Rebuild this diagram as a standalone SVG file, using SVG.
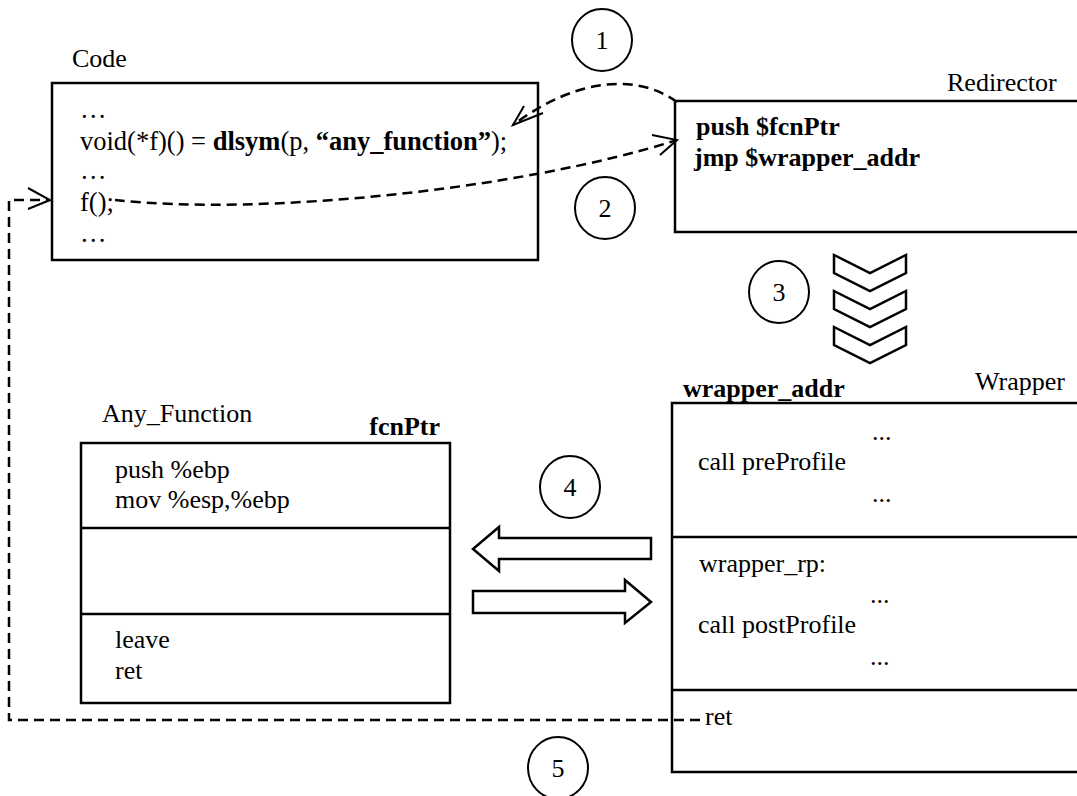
<svg xmlns="http://www.w3.org/2000/svg" width="1077" height="796" viewBox="0 0 1077 796">
<style>
text{font-family:"Liberation Serif","Times New Roman",serif;font-size:26px;fill:#000}
.b{font-weight:bold}
.big{font-size:26.5px}
.box{fill:#fff;stroke:#000;stroke-width:2.5}
.sep{stroke:#000;stroke-width:2.5}
.circ{fill:#fff;stroke:#000;stroke-width:2}
.num{text-anchor:middle}
.dash{fill:none;stroke:#000;stroke-width:2.5;stroke-dasharray:10 6}
.head{fill:none;stroke:#000;stroke-width:2}
.blk{fill:#fff;stroke:#000;stroke-width:2.5;stroke-linejoin:miter}
</style>
<rect width="1077" height="796" fill="#fff"/>

<g id="code">
<text x="72" y="67">Code</text>
<rect class="box" x="52" y="83" width="486" height="177"/>
<text class="big" x="80" y="118">…</text>
<text class="big" x="80" y="150">void(*f)() = <tspan class="b">dlsym</tspan>(p, <tspan class="b">“any_function”</tspan>);</text>
<text class="big" x="80" y="179">…</text>
<text class="big" x="80" y="211">f();</text>
<text class="big" x="80" y="242">…</text>
</g>

<g id="redirector">
<text x="947" y="91">Redirector</text>
<rect class="box" x="675" y="101" width="420" height="131"/>
<text class="b" x="696" y="135">push $fcnPtr</text>
<text class="b" x="694" y="166">jmp $wrapper_addr</text>
</g>

<g id="any_function">
<text x="102" y="422">Any_Function</text>
<text class="b" x="440" y="435" text-anchor="end">fcnPtr</text>
<rect class="box" x="81" y="443" width="369" height="260"/>
<line class="sep" x1="81" y1="528" x2="450" y2="528"/>
<line class="sep" x1="81" y1="614" x2="450" y2="614"/>
<text x="115" y="478">push %ebp</text>
<text x="115" y="508">mov %esp,%ebp</text>
<text x="115" y="648">leave</text>
<text x="115" y="679">ret</text>
</g>

<g id="wrapper">
<text class="b" x="683" y="397">wrapper_addr</text>
<text x="975" y="390">Wrapper</text>
<rect class="box" x="672" y="403" width="420" height="369"/>
<line class="sep" x1="672" y1="537" x2="1092" y2="537"/>
<line class="sep" x1="672" y1="690" x2="1092" y2="690"/>
<text x="872" y="440">...</text>
<text x="698" y="470">call preProfile</text>
<text x="872" y="502">...</text>
<text x="699" y="572">wrapper_rp:</text>
<text x="870" y="603">...</text>
<text x="698" y="633">call postProfile</text>
<text x="870" y="665">...</text>
<text x="705" y="725">ret</text>
</g>

<g id="step1"><ellipse class="circ" cx="602" cy="40" rx="30" ry="31"/><text class="num" x="602" y="49">1</text></g>
<g id="step2"><ellipse class="circ" cx="605" cy="208" rx="30" ry="31"/><text class="num" x="605" y="217">2</text></g>
<g id="step3"><ellipse class="circ" cx="779" cy="292" rx="30" ry="31"/><text class="num" x="779" y="301">3</text></g>
<g id="step4"><ellipse class="circ" cx="570" cy="487" rx="30" ry="31"/><text class="num" x="570" y="496">4</text></g>
<g id="step5"><ellipse class="circ" cx="558" cy="768" rx="30" ry="31"/><text class="num" x="558" y="777">5</text></g>

<g id="chevrons">
<polygon class="blk" points="834,255 870,273 906,255 906,273 870,291 834,273"/>
<polygon class="blk" points="834,291 870,309 906,291 906,309 870,327 834,309"/>
<polygon class="blk" points="834,327 870,345 906,327 906,345 870,363 834,345"/>
</g>

<g id="call_arrows">
<polygon class="blk" points="473,549 499,527 499,538 651,538 651,559 499,559 499,571"/>
<polygon class="blk" points="473,591 625,591 625,580 651,602 625,623 625,613 473,613"/>
</g>

<g id="connectors">
<path class="dash" d="M677,102 C640,75 580,75 513,125"/>
<polyline class="head" points="524,106 513,125 543,113"/>
<path class="dash" d="M115,200 C260,216 520,190 677,140"/>
<polyline class="head" points="652,135 677,140 660,155"/>
<path class="dash" d="M700,720 L9,720 L9,200 L50,200"/>
<polyline class="head" points="28,188 50,200 28,209"/>
</g>
</svg>
